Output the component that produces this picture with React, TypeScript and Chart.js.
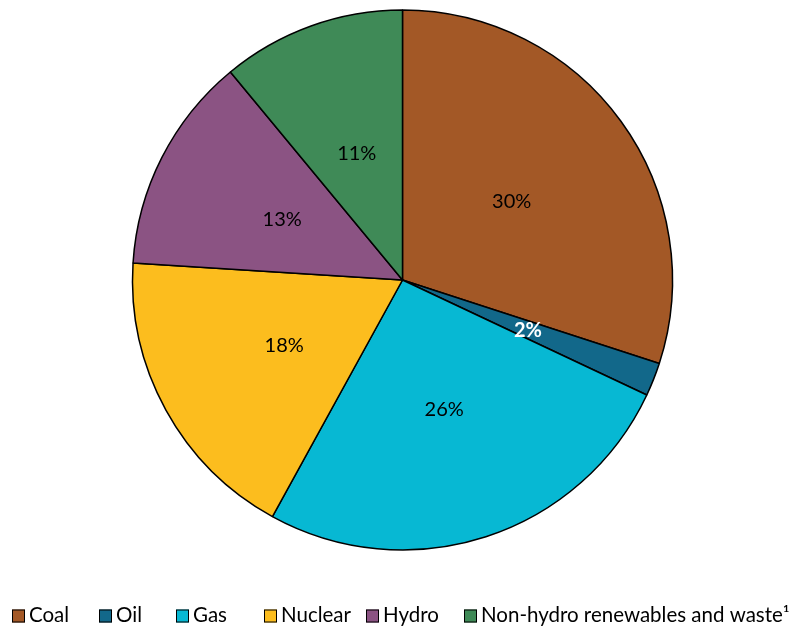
import React, { useEffect, useRef } from "react";
import { Chart, registerables } from "chart.js";

Chart.register(...registerables);

// Electricity generation by source, share of total (%)
const categories = ["Coal", "Oil", "Gas", "Nuclear", "Hydro", "Non-hydro renewables and waste\u00B9"];
const shares = [30, 2, 26, 18, 13, 11];
const sliceColors = ["#A35826", "#12688A", "#07B8D3", "#FCBD1E", "#8B5383", "#3F8A57"];
const labelColors = ["#000000", "#FFFFFF", "#000000", "#000000", "#000000", "#000000"];
const labelWeights = ["normal", "bold", "normal", "normal", "normal", "normal"];

const FONT = "Lato, 'Open Sans', sans-serif";
const LABEL_SIZE = 20;
const LEGEND_SIZE = 20.5;
// left edge of each legend swatch
const LEGEND_X = [12, 99, 176, 264, 366, 464];
const LEGEND_Y = 616;
const SWATCH = 13;

const sliceLabels = {
  id: "sliceLabels",
  afterDatasetsDraw(chart: any) {
    const ctx = chart.ctx as CanvasRenderingContext2D;
    const meta = chart.getDatasetMeta(0);
    ctx.save();
    ctx.textAlign = "center";
    ctx.textBaseline = "middle";
    meta.data.forEach((arc: any, i: number) => {
      const p = arc.tooltipPosition(false);
      ctx.font = `${labelWeights[i]} ${LABEL_SIZE}px ${FONT}`;
      ctx.fillStyle = labelColors[i];
      ctx.fillText(`${shares[i]}%`, p.x, p.y + 1);
    });
    ctx.restore();
  },
};

const bottomLegend = {
  id: "bottomLegend",
  afterDraw(chart: any) {
    const ctx = chart.ctx as CanvasRenderingContext2D;
    ctx.save();
    ctx.font = `${LEGEND_SIZE}px ${FONT}`;
    ctx.textAlign = "left";
    ctx.textBaseline = "middle";
    categories.forEach((name, i) => {
      const x = LEGEND_X[i];
      const top = LEGEND_Y - SWATCH / 2;
      ctx.fillStyle = sliceColors[i];
      ctx.fillRect(x, top, SWATCH, SWATCH);
      ctx.strokeStyle = "#000000";
      ctx.lineWidth = 1;
      ctx.strokeRect(x + 0.5, top + 0.5, SWATCH - 1, SWATCH - 1);
      ctx.fillStyle = "#000000";
      ctx.fillText(name, x + SWATCH + 4, LEGEND_Y - 1);
    });
    ctx.restore();
  },
};

export default function App() {
  const ref = useRef<HTMLCanvasElement>(null);

  useEffect(() => {
    document.body.style.margin = "0";
    const chart = new Chart(ref.current as HTMLCanvasElement, {
      type: "pie",
      data: {
        labels: categories,
        datasets: [
          {
            data: shares,
            backgroundColor: sliceColors,
            borderColor: "#000000",
            borderWidth: 1.5,
            hoverOffset: 0,
            radius: 270,
          } as any,
        ],
      },
      options: {
        responsive: false,
        animation: false,
        events: [],
        layout: { padding: { top: 10, bottom: 76, left: 8, right: 0 } },
        plugins: {
          legend: { display: false },
          tooltip: { enabled: false },
        },
      },
      plugins: [sliceLabels, bottomLegend],
    });
    return () => chart.destroy();
  }, []);

  return (
    <div style={{ width: 797, height: 626, background: "#FFFFFF" }}>
      <canvas ref={ref} width={797} height={626} />
    </div>
  );
}
